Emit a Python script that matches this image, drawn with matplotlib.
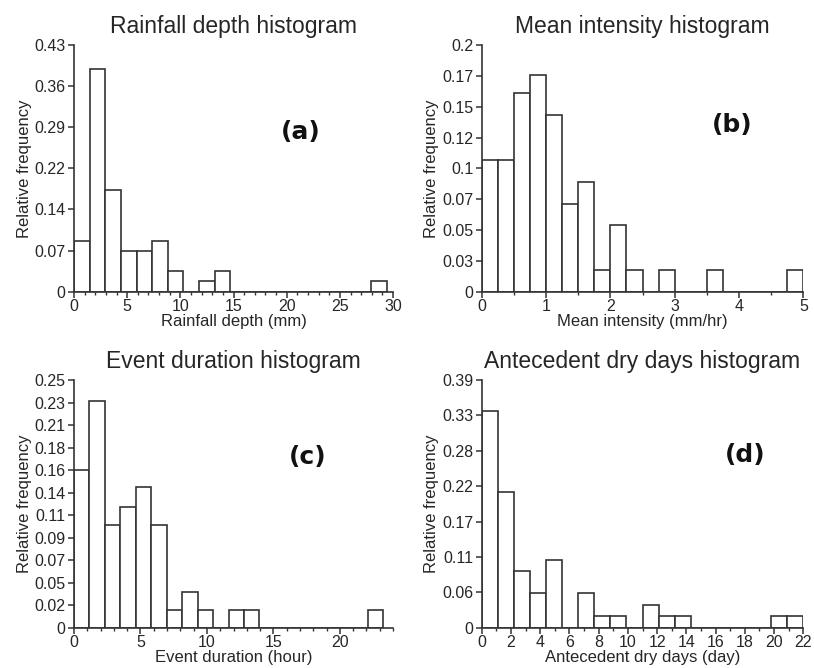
"""
四个降雨特征的相对频率直方图
"""
import numpy as np
import matplotlib
matplotlib.use("Agg")
import matplotlib.pyplot as plt
from matplotlib.ticker import MultipleLocator

matplotlib.rcParams["font.family"] = ["Liberation Sans", "DejaVu Sans"]

# ---- data (relative frequency per bin) ----
DEPTH_BIN = 1.47
DEPTH_FREQ = [0.089, 0.389, 0.177, 0.071, 0.071, 0.089, 0.036, 0.0, 0.018, 0.036,
              0.0, 0.0, 0.0, 0.0, 0.0, 0.0, 0.0, 0.0, 0.0, 0.018]

INTENSITY_BIN = 0.25
INTENSITY_FREQ = [0.107, 0.107, 0.161, 0.176, 0.143, 0.071, 0.089, 0.018, 0.054, 0.018,
                  0.0, 0.018, 0.0, 0.0, 0.018, 0.0, 0.0, 0.0, 0.0, 0.018]

DURATION_BIN = 1.1625
DURATION_FREQ = [0.160, 0.231, 0.105, 0.123, 0.143, 0.105, 0.018, 0.036, 0.018, 0.0,
                 0.018, 0.018, 0.0, 0.0, 0.0, 0.0, 0.0, 0.0, 0.0, 0.018]

DRY_BIN = 1.1
DRY_FREQ = [0.341, 0.214, 0.090, 0.055, 0.107, 0.0, 0.055, 0.018, 0.018, 0.0,
            0.036, 0.018, 0.018, 0.0, 0.0, 0.0, 0.0, 0.0, 0.018, 0.018]

YTICK_A = ["0", "0.07", "0.14", "0.22", "0.29", "0.36", "0.43"]
YTICK_B = ["0", "0.03", "0.05", "0.07", "0.1", "0.12", "0.15", "0.17", "0.2"]
YTICK_C = ["0", "0.02", "0.05", "0.07", "0.09", "0.11", "0.14", "0.16", "0.18", "0.21", "0.23", "0.25"]
YTICK_D = ["0", "0.06", "0.11", "0.17", "0.22", "0.28", "0.33", "0.39"]

TXT = "#262626"
EDGE = "#333333"

panels = [
    dict(freq=DEPTH_FREQ, bw=DEPTH_BIN, title="Rainfall depth histogram",
         xlabel="Rainfall depth (mm)", xlim=30, xmaj=5, xmin=1, ymax=0.43, ylabels=YTICK_A,
         tag="(a)", tagpos=(21.3, 0.278), rect=[0.0909, 0.5633, 0.392, 0.3693]),
    dict(freq=INTENSITY_FREQ, bw=INTENSITY_BIN, title="Mean intensity histogram",
         xlabel="Mean intensity (mm/hr)", xlim=5, xmaj=1, xmin=0.5, ymax=0.2, ylabels=YTICK_B,
         tag="(b)", tagpos=(3.89, 0.135), rect=[0.5918, 0.5633, 0.3951, 0.3693]),
    dict(freq=DURATION_FREQ, bw=DURATION_BIN, title="Event duration histogram",
         xlabel="Event duration (hour)", xlim=24, xmaj=5, xmin=1, ymax=0.252, ylabels=YTICK_C,
         tag="(c)", tagpos=(17.6, 0.174), rect=[0.0909, 0.0603, 0.392, 0.3708]),
    dict(freq=DRY_FREQ, bw=DRY_BIN, title="Antecedent dry days histogram",
         xlabel="Antecedent dry days (day)", xlim=22, xmaj=2, xmin=1, ymax=0.39, ylabels=YTICK_D,
         tag="(d)", tagpos=(18.0, 0.272), rect=[0.5918, 0.0603, 0.3951, 0.3708]),
]

fig = plt.figure(figsize=(8.14, 6.68), dpi=100)

for p in panels:
    ax = fig.add_axes(p["rect"])
    n = len(p["freq"])
    left = np.arange(n) * p["bw"]
    ax.bar(left, p["freq"], width=p["bw"], align="edge", color="white",
           edgecolor=EDGE, linewidth=1.2, zorder=2)

    ax.set_xlim(0, p["xlim"])
    ax.set_ylim(0, p["ymax"])
    ax.xaxis.set_major_locator(MultipleLocator(p["xmaj"]))
    ax.xaxis.set_minor_locator(MultipleLocator(p["xmin"]))
    ax.set_yticks(np.linspace(0, p["ymax"], len(p["ylabels"])))
    ax.set_yticklabels(p["ylabels"])

    for s in ["top", "right"]:
        ax.spines[s].set_visible(False)
    for s in ["left", "bottom"]:
        ax.spines[s].set_color(EDGE)
        ax.spines[s].set_linewidth(1.2)
        ax.spines[s].set_zorder(3)

    ax.tick_params(axis="both", which="major", direction="out", length=4, width=1.1,
                   color=EDGE, labelsize=11.5, labelcolor=TXT)
    ax.tick_params(axis="y", which="major", pad=2)
    ax.tick_params(axis="x", which="major", pad=1)
    ax.tick_params(axis="x", which="minor", direction="out", length=2.5, width=1.0, color=EDGE)

    ax.set_title(p["title"], fontsize=16.5, color=TXT, pad=9)
    ax.set_xlabel(p["xlabel"], fontsize=12, color=TXT, labelpad=0)
    ax.set_ylabel("Relative frequency", fontsize=12, color=TXT, labelpad=2)
    ax.text(p["tagpos"][0], p["tagpos"][1], p["tag"], fontsize=18, fontweight="bold",
            family="DejaVu Sans", color="#111111", ha="center", va="center")

fig.savefig("out.png", dpi=100)
